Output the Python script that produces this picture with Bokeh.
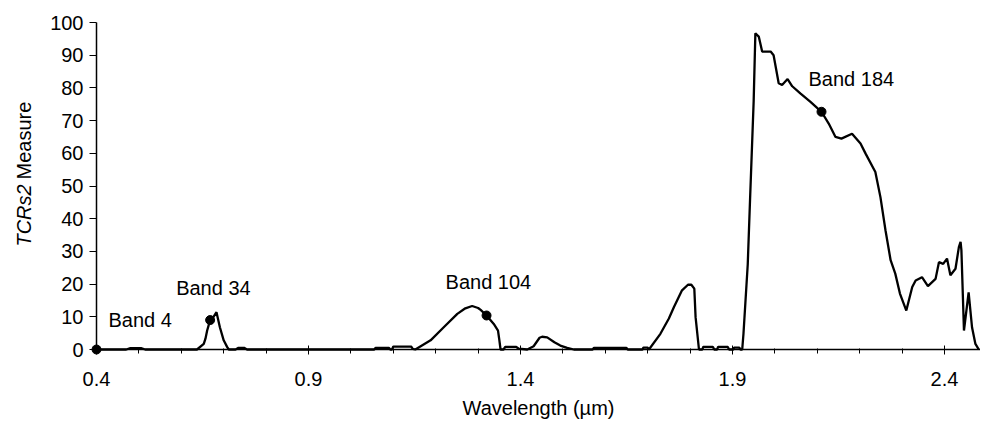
from math import pi

from bokeh.plotting import figure
from bokeh.core.properties import value
from bokeh.models import FixedTicker, Label, Range1d
from bokeh.embed import file_html
from bokeh.resources import INLINE

# spectrum (wavelength in um, TCRs2 measure)
wavelength = [
    0.400, 0.470, 0.480, 0.505, 0.515, 0.637, 0.653, 0.657, 0.661, 0.668,
    0.676, 0.683, 0.691, 0.700, 0.708, 0.712, 0.728, 0.735, 0.748, 0.755,
    1.055, 1.058, 1.090, 1.093, 1.097, 1.100, 1.142, 1.146, 1.152, 1.188,
    1.219, 1.251, 1.270, 1.286, 1.300, 1.306, 1.320, 1.337, 1.347, 1.350,
    1.353, 1.360, 1.364, 1.390, 1.395, 1.416, 1.431, 1.445, 1.451, 1.463,
    1.480, 1.494, 1.510, 1.526, 1.570, 1.573, 1.650, 1.653, 1.688, 1.690,
    1.700, 1.703, 1.730, 1.750, 1.762, 1.781, 1.795, 1.803, 1.810, 1.813,
    1.821, 1.829, 1.831, 1.854, 1.857, 1.864, 1.866, 1.889, 1.892, 1.902,
    1.904, 1.916, 1.919, 1.923, 1.926, 1.936, 1.942, 1.950, 1.954, 1.962,
    1.970, 1.990, 1.997, 2.009, 2.017, 2.030, 2.041, 2.060, 2.084, 2.110,
    2.127, 2.143, 2.157, 2.182, 2.202, 2.214, 2.237, 2.249, 2.261, 2.273,
    2.284, 2.295, 2.310, 2.324, 2.332, 2.347, 2.361, 2.379, 2.387, 2.397,
    2.406, 2.414, 2.426, 2.434, 2.438, 2.440, 2.446, 2.457, 2.465, 2.473,
    2.481,
]
tcrs2 = [
    0.0, 0.0, 0.4, 0.4, 0.0, 0.0, 1.7, 3.3, 5.8, 9.0,
    10.0, 11.4, 6.8, 2.8, 0.8, 0.0, 0.0, 0.5, 0.5, 0.0,
    0.0, 0.5, 0.5, 0.0, 0.0, 0.9, 0.9, 0.2, 0.0, 2.8,
    6.8, 10.9, 12.6, 13.3, 12.7, 12.1, 10.4, 7.8, 5.8, 3.0,
    0.0, 0.0, 0.8, 0.8, 0.3, 0.0, 1.0, 3.6, 3.9, 3.7,
    2.2, 1.2, 0.5, 0.0, 0.0, 0.5, 0.5, 0.0, 0.0, 0.6,
    0.6, 0.0, 4.8, 9.5, 13.0, 18.1, 19.8, 19.8, 18.6, 9.9,
    0.0, 0.0, 0.8, 0.8, 0.0, 0.0, 0.8, 0.8, 0.0, 0.0,
    0.6, 0.6, 0.0, 0.0, 4.9, 26.0, 47.8, 76.0, 96.7, 95.7,
    91.1, 91.1, 90.0, 81.4, 80.9, 82.7, 80.5, 78.3, 75.7, 72.7,
    69.1, 65.0, 64.5, 66.0, 63.0, 59.9, 54.3, 46.6, 36.4, 27.3,
    23.2, 17.1, 11.9, 19.1, 21.1, 22.1, 19.4, 21.6, 26.7, 26.2,
    27.8, 22.7, 24.7, 31.3, 32.9, 30.3, 5.8, 17.5, 6.8, 1.7,
    0.0,
]

band_names = ["Band 4", "Band 34", "Band 104", "Band 184"]
band_wavelength = [0.400, 0.668, 1.320, 2.110]
band_tcrs2 = [0.0, 9.0, 10.4, 72.7]

x_ticks = [0.4, 0.9, 1.4, 1.9, 2.4]
x_minor_ticks = [0.5, 0.6, 0.7, 0.8, 1.0, 1.1, 1.2, 1.3, 1.5, 1.6, 1.7, 1.8,
                 2.0, 2.1, 2.2, 2.3]
y_ticks = [0, 10, 20, 30, 40, 50, 60, 70, 80, 90, 100]

FONT = "Liberation Sans"
SIZE = "20px"

p = figure(width=980, height=425, output_backend="svg", toolbar_location=None,
           x_range=Range1d(0.4, 2.485), y_range=Range1d(0, 100),
           min_border_left=96, min_border_right=0, min_border_top=22,
           min_border_bottom=76)
p.outline_line_color = None
p.xgrid.visible = False
p.ygrid.visible = False

p.line(wavelength, tcrs2, line_color="black", line_width=2.3, level="overlay")
p.scatter(band_wavelength, band_tcrs2, size=9, color="black", level="overlay")

# x axis
xa = p.xaxis[0]
xa.ticker = FixedTicker(ticks=x_ticks, minor_ticks=x_minor_ticks)
xa.major_label_overrides = {t: f"{t:.1f}" for t in x_ticks}
xa.axis_label = "Wavelength (µm)"
xa.axis_label_text_font_style = "normal"
xa.axis_label_text_font = FONT
xa.axis_label_text_font_size = SIZE
xa.axis_label_text_color = "black"
xa.axis_label_standoff = 8
xa.major_label_standoff = 17
xa.major_tick_in = 4
xa.major_tick_out = 5
xa.minor_tick_in = 1
xa.minor_tick_out = 4

# y axis
ya = p.yaxis[0]
ya.ticker = FixedTicker(ticks=y_ticks, minor_ticks=[])
ya.major_label_standoff = 6
ya.major_tick_in = 0
ya.major_tick_out = 7

for ax in (xa, ya):
    ax.axis_line_color = "black"
    ax.axis_line_width = 1.5
    ax.major_tick_line_color = "black"
    ax.minor_tick_line_color = "black"
    ax.major_label_text_font = FONT
    ax.major_label_text_font_size = SIZE
    ax.major_label_text_color = "black"

# y axis title, first word in italics, placed left of the y axis
p.text(x=[0.4], y=[50.5], text=["TCRs2"], angle=pi / 2, x_offset=-73,
       text_align="right", text_baseline="middle", text_font=value(FONT),
       text_font_size=SIZE, text_font_style="italic", text_color="black",
       level="overlay")
p.text(x=[0.4], y=[52.0], text=["Measure"], angle=pi / 2, x_offset=-73,
       text_align="left", text_baseline="middle", text_font=value(FONT),
       text_font_size=SIZE, text_color="black", level="overlay")

# band annotations, offset in pixels from their dots
label_dx = [12, -34, -41, -13]
label_dy = [30, 32, 33, 33]
for name, bx, by, dx, dy in zip(band_names, band_wavelength, band_tcrs2,
                                label_dx, label_dy):
    p.add_layout(Label(x=bx, y=by, x_offset=dx, y_offset=dy, text=name,
                       text_align="left", text_baseline="middle",
                       text_font=FONT, text_font_size=SIZE,
                       text_color="black"))

open("out.html", "w").write(file_html(p, INLINE))
